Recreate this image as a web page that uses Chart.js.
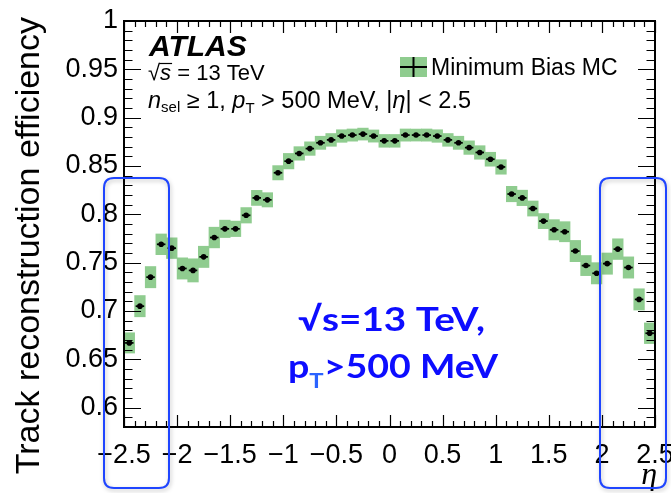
<!DOCTYPE html>
<html>
<head>
<meta charset="utf-8">
<script src="https://cdn.jsdelivr.net/npm/chart.js@4.4.0/dist/chart.umd.min.js"></script>
<style>
html, body { margin: 0; padding: 0; background: #fff; }
canvas { display: block; }
</style>
</head>
<body>
<canvas id="effChart" width="671" height="493"></canvas>
<script>
// bin centres in eta (bin width 0.1)
var etaBins = [-2.45, -2.35, -2.25, -2.15, -2.05, -1.95, -1.85, -1.75, -1.65, -1.55,
	-1.45, -1.35, -1.25, -1.15, -1.05, -0.95, -0.85, -0.75, -0.65, -0.55,
	-0.45, -0.35, -0.25, -0.15, -0.05, 0.05, 0.15, 0.25, 0.35, 0.45,
	0.55, 0.65, 0.75, 0.85, 0.95, 1.05, 1.15, 1.25, 1.35, 1.45,
	1.55, 1.65, 1.75, 1.85, 1.95, 2.05, 2.15, 2.25, 2.35, 2.45];
var efficiency = [0.667, 0.705, 0.735, 0.769, 0.765, 0.744, 0.742, 0.756, 0.776, 0.785,
	0.785, 0.799, 0.817, 0.815, 0.843, 0.855, 0.863, 0.868, 0.874, 0.877,
	0.881, 0.882, 0.883, 0.881, 0.876, 0.876, 0.882, 0.882, 0.882, 0.881,
	0.877, 0.874, 0.869, 0.864, 0.857, 0.849, 0.821, 0.817, 0.806, 0.793,
	0.784, 0.782, 0.762, 0.747, 0.739, 0.749, 0.764, 0.745, 0.712, 0.677];
// half height of the green systematic band
var systErr = [0.0105, 0.011, 0.011, 0.0107, 0.0107, 0.011, 0.012, 0.011, 0.0107, 0.009,
	0.008, 0.008, 0.0078, 0.0074, 0.0074, 0.008, 0.007, 0.007, 0.0068, 0.0066,
	0.0065, 0.0063, 0.0062, 0.0063, 0.0066, 0.0066, 0.0063, 0.0062, 0.0063, 0.0065,
	0.0066, 0.0068, 0.007, 0.007, 0.0072, 0.0075, 0.008, 0.008, 0.0078, 0.0078,
	0.0105, 0.0104, 0.011, 0.0104, 0.011, 0.011, 0.0107, 0.011, 0.011, 0.0107];
var xTickValues = [-2.5, -2, -1.5, -1, -0.5, 0, 0.5, 1, 1.5, 2, 2.5];
var yTickValues = [0.6, 0.65, 0.7, 0.75, 0.8, 0.85, 0.9, 0.95, 1];

var ROOT_FONT = '"Liberation Sans", Arial, Helvetica, sans-serif';

function drawParts(ctx, x, y, parts) {
	// parts: [text, font, dy, color]
	for (var i = 0; i < parts.length; i++) {
		var p = parts[i];
		ctx.font = p[1];
		ctx.fillStyle = p[3] || '#000';
		ctx.fillText(p[0], x, y + (p[2] || 0));
		x += ctx.measureText(p[0]).width;
	}
	return x;
}

function partsWidth(ctx, parts) {
	var w = 0;
	for (var i = 0; i < parts.length; i++) {
		ctx.font = parts[i][1];
		w += ctx.measureText(parts[i][0]).width;
	}
	return w;
}

function fitParts(ctx, parts, x0, x1, y) {
	var w = partsWidth(ctx, parts);
	ctx.save();
	ctx.translate(x0, y);
	ctx.scale((x1 - x0) / w, 1);
	drawParts(ctx, 0, 0, parts);
	ctx.restore();
}

function roundBox(ctx, x, y, w, h, r) {
	ctx.beginPath();
	ctx.moveTo(x + r, y);
	ctx.lineTo(x + w - r, y);
	ctx.quadraticCurveTo(x + w, y, x + w, y + r);
	ctx.lineTo(x + w, y + h - r);
	ctx.quadraticCurveTo(x + w, y + h, x + w - r, y + h);
	ctx.lineTo(x + r, y + h);
	ctx.quadraticCurveTo(x, y + h, x, y + h - r);
	ctx.lineTo(x, y + r);
	ctx.quadraticCurveTo(x, y, x + r, y);
	ctx.closePath();
}

var atlasDecor = {
	id: 'atlasDecor',
	afterDraw: function (chart) {
		var ctx = chart.ctx;
		var a = chart.chartArea;
		var xs = chart.scales.x, ys = chart.scales.y;
		ctx.save();

		// ticks, ROOT style (inside, on all four sides)
		ctx.strokeStyle = '#000';
		ctx.lineWidth = 1.2;
		ctx.beginPath();
		for (var k = -25; k <= 25; k++) {
			var px = Math.round(xs.getPixelForValue(k / 10)) + 0.5;
			var len = (k % 5 === 0) ? 12 : 6;
			ctx.moveTo(px, a.bottom); ctx.lineTo(px, a.bottom - len);
			ctx.moveTo(px, a.top); ctx.lineTo(px, a.top + len);
		}
		for (var m = 58; m <= 100; m++) {
			var py = Math.round(ys.getPixelForValue(m / 100)) + 0.5;
			var ylen = (m % 5 === 0) ? 17 : 8.5;
			ctx.moveTo(a.left, py); ctx.lineTo(a.left + ylen, py);
			ctx.moveTo(a.right, py); ctx.lineTo(a.right - ylen, py);
		}
		ctx.stroke();
		ctx.lineWidth = 2;
		ctx.strokeRect(a.left, a.top, a.right - a.left, a.bottom - a.top);

		// axis titles
		ctx.save();
		ctx.translate(39, 17);
		ctx.rotate(-Math.PI / 2);
		ctx.textAlign = 'right';
		ctx.textBaseline = 'alphabetic';
		ctx.font = '34px ' + ROOT_FONT;
		ctx.fillStyle = '#000';
		ctx.fillText('Track reconstruction efficiency', 0, 0);
		ctx.restore();

		ctx.textAlign = 'right';
		ctx.font = 'italic 32px "Liberation Serif", "DejaVu Serif", serif';
		ctx.fillText('\u03b7', 657, 484);

		// ATLAS labels
		ctx.textAlign = 'left';
		ctx.font = 'italic bold 30px ' + ROOT_FONT;
		ctx.fillText('ATLAS', 149, 56);

		var f22 = '22px ' + ROOT_FONT;
		var fi22 = 'italic 22px ' + ROOT_FONT;
		ctx.font = f22;
		ctx.fillText('\u221a', 148, 80);
		var sx = 148 + ctx.measureText('\u221a').width;
		var ex = drawParts(ctx, sx, 80, [['s', fi22]]);
		ctx.lineWidth = 1.2;
		ctx.beginPath();
		ctx.moveTo(sx - 1, 63.5); ctx.lineTo(ex + 1, 63.5);
		ctx.stroke();
		drawParts(ctx, ex, 80, [[' = 13 TeV', f22]]);

		var f24 = '23.5px ' + ROOT_FONT;
		var fi24 = 'italic 23.5px ' + ROOT_FONT;
		var fs = '15px ' + ROOT_FONT;
		drawParts(ctx, 148, 108, [
			['n', fi24], ['sel', fs, 4], [' \u2265 1, ', f24], ['p', fi24], ['T', fs, 5],
			[' > 500 MeV, |', f24], ['\u03b7', fi24], ['| < 2.5', f24]
		]);

		// legend
		ctx.fillStyle = '#8fcc8f';
		ctx.fillRect(400, 57, 27, 20);
		ctx.strokeStyle = '#000';
		ctx.lineWidth = 2;
		ctx.beginPath();
		ctx.moveTo(400, 67); ctx.lineTo(427, 67);
		ctx.moveTo(413.5, 57); ctx.lineTo(413.5, 77);
		ctx.stroke();
		ctx.fillStyle = '#000';
		ctx.font = '23px ' + ROOT_FONT;
		ctx.fillText('Minimum Bias MC', 431, 75);

		// blue annotation boxes
		ctx.save();
		ctx.shadowColor = 'rgba(0,0,0,0.25)';
		ctx.shadowBlur = 4;
		ctx.shadowOffsetX = 1;
		ctx.shadowOffsetY = 2;
		ctx.strokeStyle = '#1f45ff';
		ctx.lineWidth = 2;
		roundBox(ctx, 104, 178, 65, 310, 10);
		ctx.stroke();
		roundBox(ctx, 600, 178, 66, 310, 10);
		ctx.stroke();
		ctx.restore();

		// blue annotation text
		var fb = 'bold 33px Lato, "Open Sans", "DejaVu Sans", sans-serif';
		var fbs = 'bold 21px Lato, "Open Sans", "DejaVu Sans", sans-serif';
		fitParts(ctx, [['\u221as=13 TeV,', fb, 0, '#0d0dff']], 298, 485, 331);
		fitParts(ctx, [['p', fb, 0, '#0d0dff'], ['T', fbs, 10, '#2a63ff'], ['>500 MeV', fb, 0, '#0d0dff']], 288, 498, 378);

		ctx.restore();
	}
};

var bandData = etaBins.map(function (x, i) {
	return { x: x, y: [efficiency[i] - systErr[i], efficiency[i] + systErr[i]] };
});
var barData = etaBins.map(function (x, i) {
	return { x: x, y: [efficiency[i] - 0.0009, efficiency[i] + 0.0009] };
});
var pointData = etaBins.map(function (x, i) {
	return { x: x, y: efficiency[i] };
});

var ctx = document.getElementById('effChart');
var myChart = new Chart(ctx, {
	type: 'bar',
	data: {
		datasets: [{
			type: 'scatter',
			label: 'points',
			data: pointData,
			pointRadius: 2.8,
			pointBackgroundColor: '#000',
			pointBorderWidth: 0,
			order: 1
		}, {
			label: 'binwidth',
			data: barData,
			backgroundColor: '#000',
			barPercentage: 0.8,
			categoryPercentage: 1,
			grouped: false,
			order: 2
		}, {
			label: 'Minimum Bias MC',
			data: bandData,
			backgroundColor: '#8fcc8f',
			barPercentage: 1,
			categoryPercentage: 1,
			grouped: false,
			order: 3
		}]
	},
	options: {
		responsive: false,
		animation: false,
		devicePixelRatio: 1,
		layout: { padding: { top: 21, right: 16, left: 0, bottom: 0 } },
		plugins: {
			legend: { display: false },
			tooltip: { enabled: false }
		},
		scales: {
			x: {
				type: 'linear',
				min: -2.5,
				max: 2.5,
				offset: false,
				grid: { display: false, drawTicks: false, offset: false },
				border: { display: false },
				ticks: {
					autoSkip: false,
					maxRotation: 0,
					padding: 12,
					color: '#000',
					font: { family: ROOT_FONT, size: 27 },
					callback: function (v) {
						var s = String(Math.abs(+v.toFixed(1)));
						return v < 0 ? '\u2212' + s : s;
					}
				},
				afterBuildTicks: function (scale) {
					scale.ticks = xTickValues.map(function (v) { return { value: v }; });
				},
				afterFit: function (scale) {
					scale.height = 66;
					scale.paddingLeft = 0;
					scale.paddingRight = 0;
				}
			},
			y: {
				min: 0.58,
				max: 1,
				grid: { display: false, drawTicks: false },
				border: { display: false },
				ticks: {
					padding: 6,
					color: '#000',
					font: { family: ROOT_FONT, size: 27 },
					callback: function (v) { return String(+v.toFixed(2)); }
				},
				afterBuildTicks: function (scale) {
					scale.ticks = yTickValues.map(function (v) { return { value: v }; });
				},
				afterFit: function (scale) {
					scale.width = 124;
					scale.paddingTop = 0;
					scale.paddingBottom = 0;
				}
			}
		}
	},
	plugins: [atlasDecor]
});
</script>
</body>
</html>
